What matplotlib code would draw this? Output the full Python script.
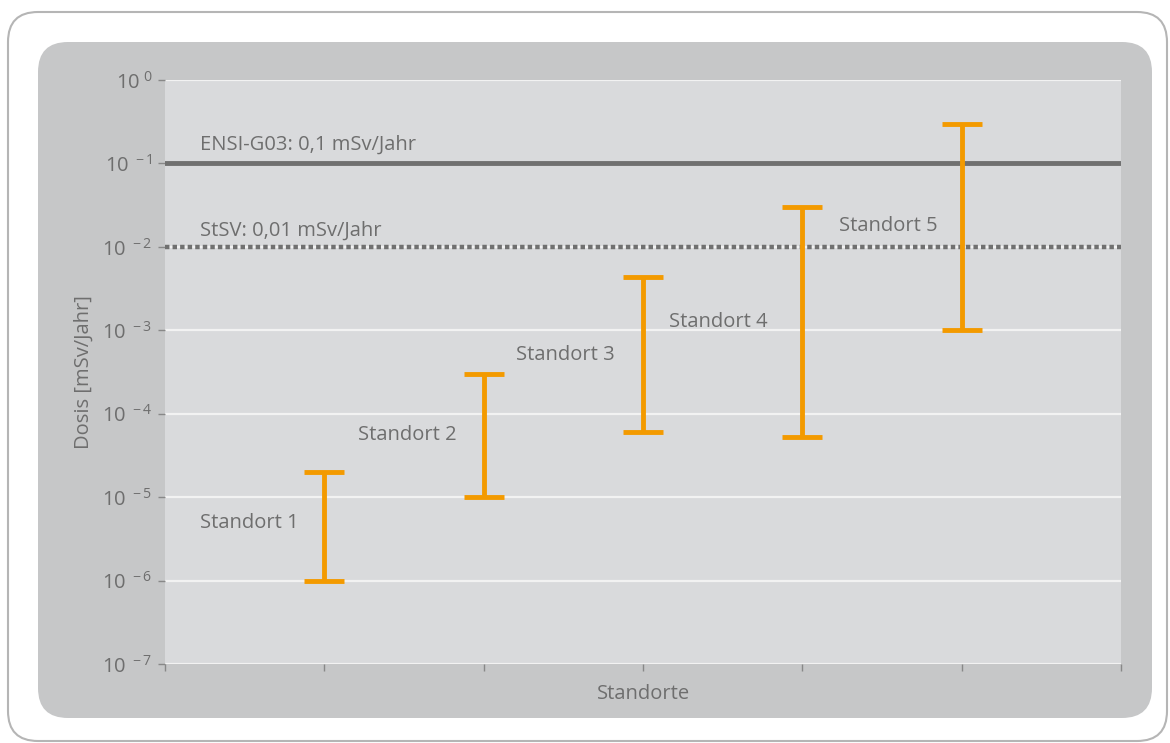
import math
import matplotlib.pyplot as plt
from matplotlib.patches import FancyBboxPatch
from matplotlib.ticker import FixedLocator, FuncFormatter

# data
standorte = ['Standort 1', 'Standort 2', 'Standort 3', 'Standort 4', 'Standort 5']
pos = [1, 2, 3, 4, 5]
dose_low = [1.0e-6, 1.0e-5, 6.0e-5, 5.2e-5, 1.0e-3]
dose_high = [2.0e-5, 3.0e-4, 4.4e-3, 3.0e-2, 0.30]
limit_ensi = 0.1
limit_stsv = 0.01
# label anchors (centre of text)
lab_x = [0.53, 1.52, 2.51, 3.47, 4.54]
lab_y = [4.9e-6, 5.6e-5, 5.0e-4, 1.26e-3, 1.8e-2]

plt.rcParams['font.family'] = ['Open Sans', 'DejaVu Sans']
plt.rcParams['mathtext.fontset'] = 'custom'
plt.rcParams['mathtext.rm'] = 'Open Sans'
plt.rcParams['mathtext.it'] = 'Open Sans'
plt.rcParams['mathtext.sf'] = 'Open Sans'

txt = '#6e6e6e'
orange = '#f39a00'
fs = 14.5

W, H = 1170, 743
fig = plt.figure(figsize=(W / 100, H / 100), dpi=100)
fig.patch.set_facecolor('white')

# outer white frame and grey panel (figure pixel coords -> fraction)
def box(x0, y0, x1, y1, r, fc, ec, lw, z):
    p = FancyBboxPatch((x0 / W, 1 - y1 / H), (x1 - x0) / W, (y1 - y0) / H,
                       boxstyle='round,pad=0,rounding_size=%f' % (r / W),
                       transform=fig.transFigure, facecolor=fc, edgecolor=ec,
                       linewidth=lw, zorder=z, mutation_aspect=W / H)
    fig.patches.append(p)

box(8, 12, 1167, 741, 30, 'white', '#b5b5b5', 1.5, -3)
box(38, 42, 1152, 718, 30, '#c6c7c8', 'none', 0, -2)

ax = fig.add_axes([165 / W, 1 - 664 / H, (1121 - 165) / W, (664 - 80) / H])
ax.set_facecolor('#d9dadc')
ax.set_yscale('log')
ax.set_ylim(1e-7, 1)
ax.set_xlim(0, 6)
for s in ax.spines.values():
    s.set_visible(False)

decades = [10.0 ** k for k in range(-7, 1)]
ax.yaxis.set_major_locator(FixedLocator(decades))
ax.yaxis.set_minor_locator(FixedLocator([]))
ax.yaxis.set_major_formatter(FuncFormatter(
    lambda v, p: r'$\mathregular{10^{\ %d}}$' % round(math.log10(v))))
ax.set_xticks(range(7))
ax.set_xticklabels([])
ax.tick_params(axis='y', length=5, width=1, color='#888888', labelcolor=txt,
               labelsize=fs, pad=4)
ax.tick_params(axis='x', length=5, width=1, color='#888888')

for d in decades:
    ax.axhline(d, color='#f2f2f2', lw=1.6, zorder=1)

ax.axhline(limit_ensi, color='#707070', lw=3.5, zorder=2)
ax.axhline(limit_stsv, color='#707070', lw=3.2, ls=(0, (1, 0.7)), zorder=2)
ax.text(0.22, 0.166, 'ENSI-G03: 0,1 mSv/Jahr', color=txt, fontsize=fs,
        ha='left', va='center')
ax.text(0.22, 0.0155, 'StSV: 0,01 mSv/Jahr', color=txt, fontsize=fs,
        ha='left', va='center')

mid = [(lo * hi) ** 0.5 for lo, hi in zip(dose_low, dose_high)]
err_lo = [m - lo for m, lo in zip(mid, dose_low)]
err_hi = [hi - m for m, hi in zip(mid, dose_high)]
ax.errorbar(pos, mid, yerr=[err_lo, err_hi], fmt='none', ecolor=orange,
            elinewidth=3.5, capsize=14.5, capthick=3.5, zorder=3)

for name, x, y in zip(standorte, lab_x, lab_y):
    ax.text(x, y, name, color=txt, fontsize=fs, ha='center', va='center')

ax.set_xlabel('Standorte', color=txt, fontsize=fs, labelpad=6)
ax.set_ylabel('Dosis [mSv/Jahr]', color=txt, fontsize=fs, labelpad=6)

fig.savefig('out.png', dpi=100)
